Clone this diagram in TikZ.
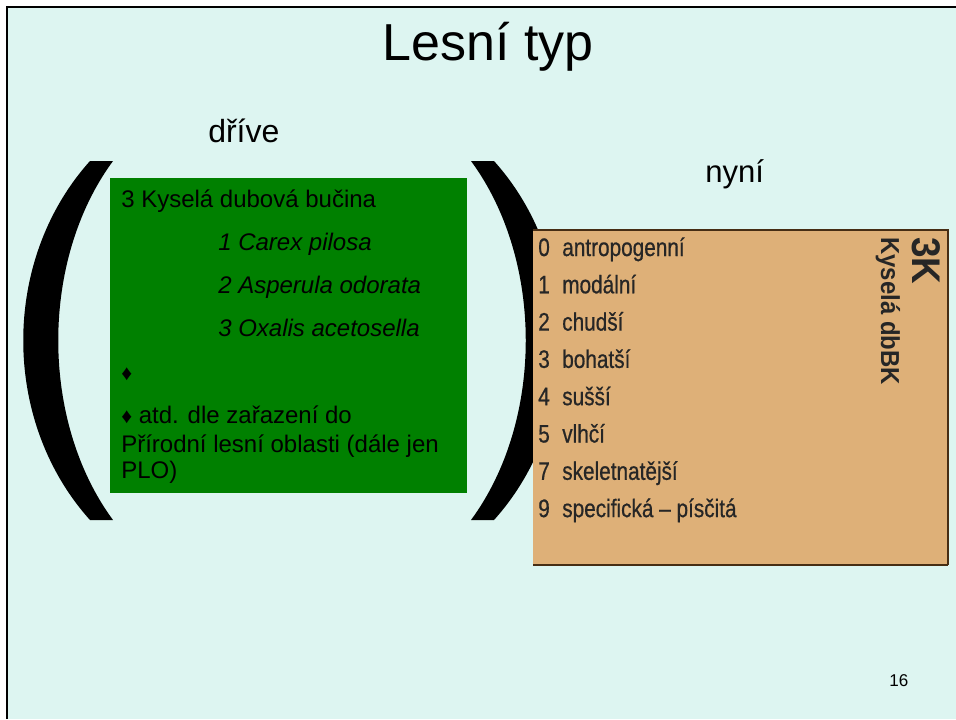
\documentclass[tikz,border=0pt]{standalone}
\usepackage{fontspec}
\setmainfont{Liberation Sans}
\newfontfamily\narrowfont[FakeStretch=0.82, FakeBold=0.6]{Liberation Sans}
\newfontfamily\narrowbold[FakeStretch=0.92]{Liberation Sans Bold}
\usetikzlibrary{calc}
\definecolor{slidebg}{RGB}{221,245,241}
\definecolor{oldgreen}{RGB}{0,128,0}
\definecolor{newtan}{RGB}{222,176,120}
\definecolor{tanedge}{RGB}{70,45,20}
\definecolor{tantext}{RGB}{38,38,38}

\tikzset{
	txt/.style={inner sep=0pt, anchor=base west},
	greentxt/.style={txt, font=\fontsize{18}{21}\selectfont},
	greenit/.style={greentxt, font=\fontsize{18}{21}\selectfont\itshape},
	tantxt/.style={txt, text=tantext, font=\fontsize{19}{22}\selectfont\narrowfont},
	bracket/.style={fill=black}
}

\begin{document}
\begin{tikzpicture}[x=0.75pt, y=-0.75pt]
	\useasboundingbox (0,0) rectangle (956,719);
	
	% Slide background and frame.
	\fill[white] (0,0) rectangle (956,719);
	\fill[slidebg] (7,7) rectangle (956,719);
	\draw[line width=1.7pt] (7,719) -- (7,7) -- (956,7);
	
	% Headings.
	\node[inner sep=0pt, anchor=base, font=\fontsize{39}{44}\selectfont] (title) at (488,60) {Lesní typ};
	\node[txt, font=\fontsize{24}{28}\selectfont] (before) at (208,142) {dříve};
	\node[txt, font=\fontsize{23.3}{27}\selectfont] (now) at (705,182) {nyní};
	
	% Draw brackets.
	\path[bracket] (90,161) .. controls (1,260) and (1,421) .. (90,520)
		-- (113,520) .. controls (40,421) and (40,260) .. (113,161) -- cycle;
	\path[bracket] (494,161) .. controls (583,260) and (583,421) .. (494,520)
		-- (471,520) .. controls (544,421) and (544,260) .. (471,161) -- cycle;
	
	% Old classification.
	\fill[oldgreen] (110,178) rectangle (467,493);
	\node[greentxt] (oldtype) at (121,207) {3 Kyselá dubová bučina};
	\node[greenit] (carex) at (218,250) {1 Carex pilosa};
	\node[greenit] (asperula) at (218,293) {2 Asperula odorata};
	\node[greenit] (oxalis) at (218,336) {3 Oxalis acetosella};
	\node[greentxt] (dia1) at (121,380) {{\fontsize{16}{18}\selectfont ♦}};
	\node[greentxt] (atd) at (121,423) {{\fontsize{16}{18}\selectfont ♦} atd. dle zařazení do};
	\node[greentxt] (plo1) at (121,452) {Přírodní lesní oblasti (dále jen};
	\node[greentxt] (plo2) at (121,478) {PLO)};
	
	% New classification.
	\fill[newtan] (533,230) rectangle (948,565);
	\draw[tanedge, line width=0.9pt] (533,230) -- (948,230) -- (948,565);
	\draw[tanedge, line width=1.6pt] (533,565) -- (948,565);
	\foreach \n/\t [count=\i from 0] in {0/antropogenní, 1/modální, 2/chudší, 3/bohatší,
		4/sušší, 5/vlhčí, 7/skeletnatější, 9/specifická – písčitá} {
		\node[tantxt] (num\i) at (538,256+37.3*\i) {\n};
		\node[tantxt] (lab\i) at (562,256+37.3*\i) {\t};
	}
	\node[txt, rotate=-90, text=tantext, font=\fontsize{30}{34}\selectfont\narrowbold] (code) at (912,237) {3K};
	\node[txt, rotate=-90, text=tantext, font=\fontsize{19.5}{23}\selectfont\narrowbold] (codename) at (881,237) {Kyselá dbBK};
	
	% Page number.
	\node[txt, font=\fontsize{12.8}{15}\selectfont] (page) at (889,686) {16};
	
\end{tikzpicture}
\end{document}
